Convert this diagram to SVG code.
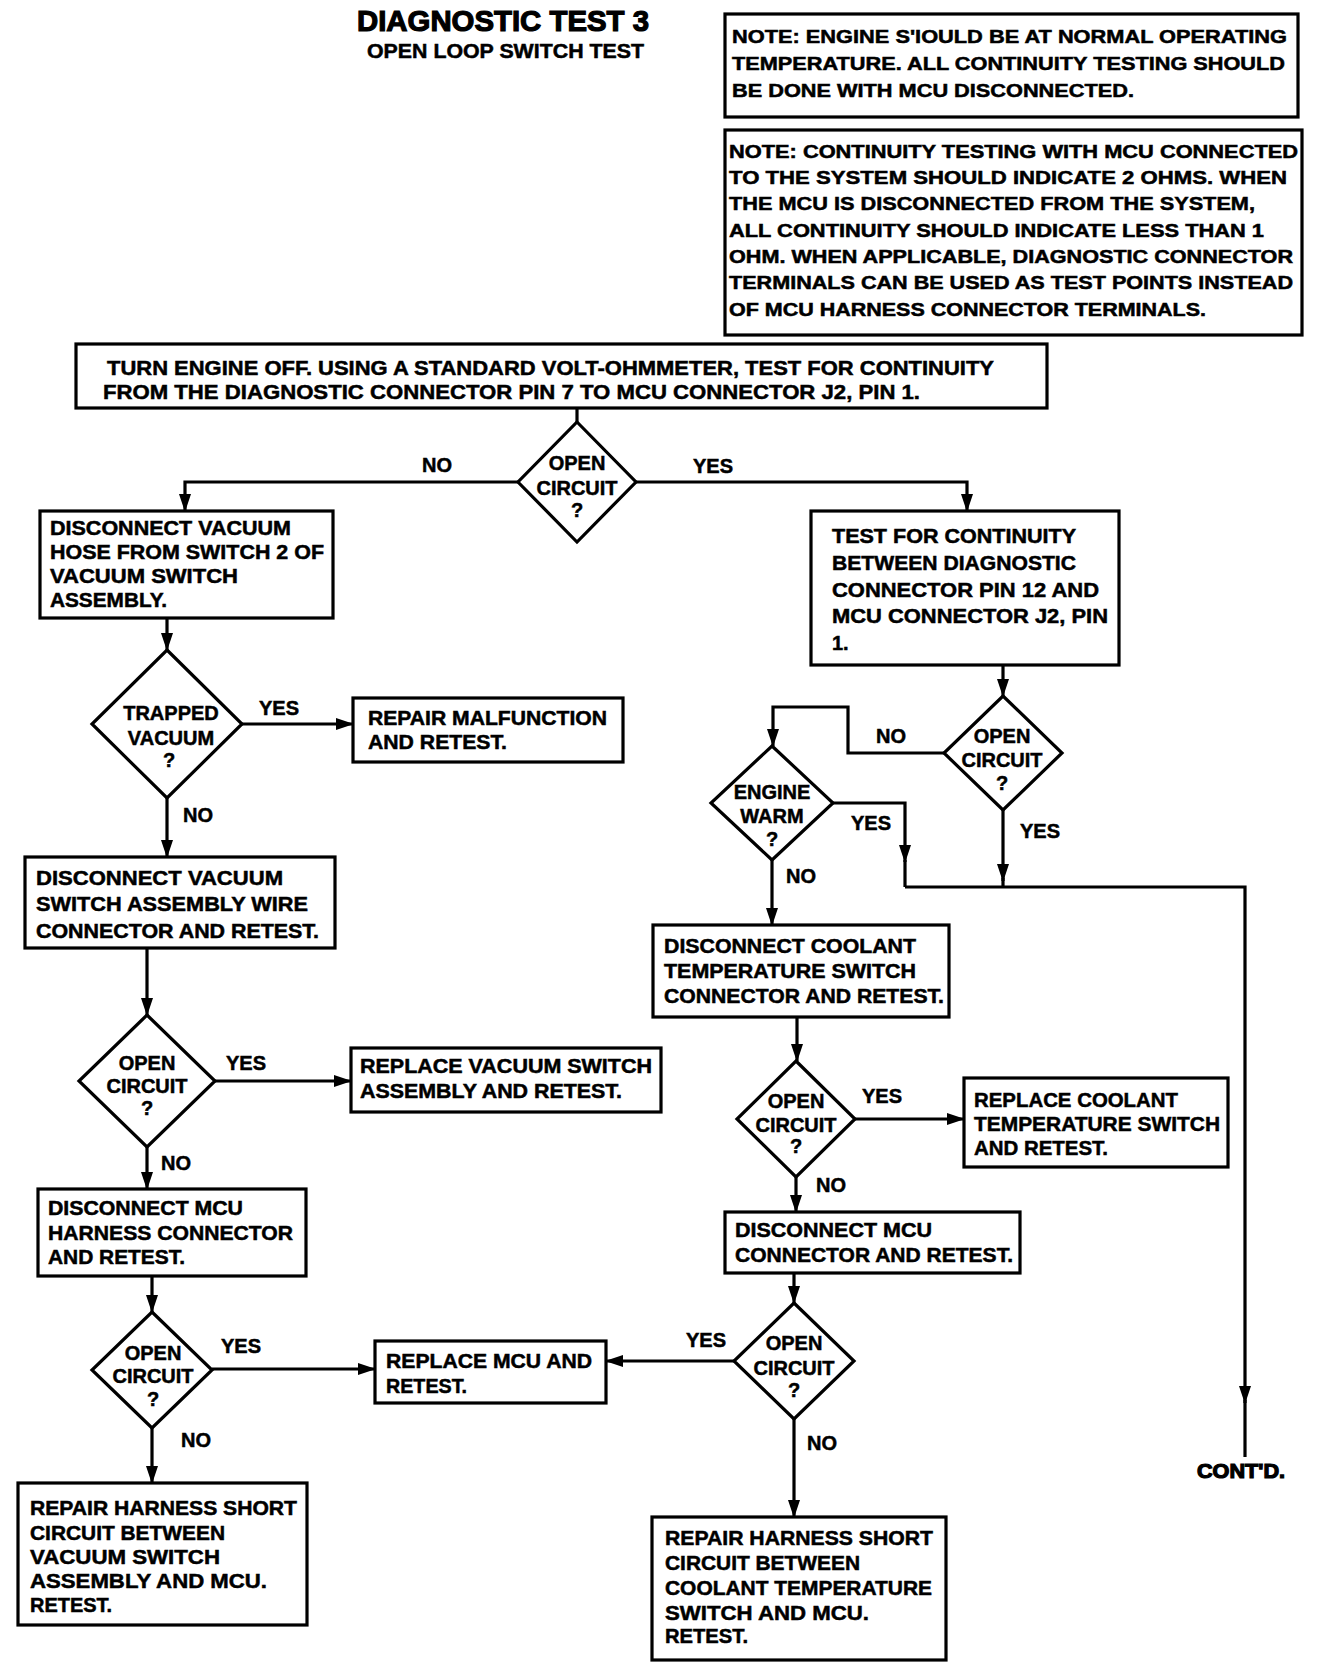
<svg xmlns="http://www.w3.org/2000/svg" width="1328" height="1664" viewBox="0 0 1328 1664">
<style>
  text { font-family: "Liberation Sans", Arial, sans-serif; font-weight: bold; fill: #000; stroke: #000; stroke-width: 0.5; }
  .t { font-size: 20px; }
  .n { font-size: 18px; }
  .c { font-size: 20px; text-anchor: middle; }
  .box { fill: #fff; stroke: #000; stroke-width: 3.2; }
  .dia { fill: #fff; stroke: #000; stroke-width: 3.2; stroke-linejoin: miter; }
  .ln { fill: none; stroke: #000; stroke-width: 3.2; }
  .ar { fill: none; stroke: #000; stroke-width: 3.2; marker-end: url(#ah); }
</style>
<defs>
  <marker id="ah" viewBox="0 0 18 12" markerWidth="18" markerHeight="12" refX="17" refY="6" orient="auto" markerUnits="userSpaceOnUse">
    <path d="M0,0 L18,6 L0,12 z" fill="#000"/>
  </marker>
</defs>
<rect x="0" y="0" width="1328" height="1664" fill="#fff"/>

<g id="title">
  <text x="357" y="31" style="font-size:30px;stroke-width:1.2" textLength="292" lengthAdjust="spacingAndGlyphs">DIAGNOSTIC TEST 3</text>
  <text x="367" y="58" style="font-size:20px" textLength="277" lengthAdjust="spacingAndGlyphs">OPEN LOOP SWITCH TEST</text>
</g>

<g id="note1">
  <rect class="box" x="725" y="14" width="573" height="103"/>
  <text class="n" x="732" y="43" textLength="555" lengthAdjust="spacingAndGlyphs">NOTE: ENGINE S'IOULD BE AT NORMAL OPERATING</text>
  <text class="n" x="732" y="70" textLength="553" lengthAdjust="spacingAndGlyphs">TEMPERATURE. ALL CONTINUITY TESTING SHOULD</text>
  <text class="n" x="732" y="97" textLength="402" lengthAdjust="spacingAndGlyphs">BE DONE WITH MCU DISCONNECTED.</text>
</g>

<g id="note2">
  <rect class="box" x="725" y="130" width="577" height="205"/>
  <text class="n" x="729" y="158" textLength="569" lengthAdjust="spacingAndGlyphs">NOTE: CONTINUITY TESTING WITH MCU CONNECTED</text>
  <text class="n" x="729" y="184" textLength="558" lengthAdjust="spacingAndGlyphs">TO THE SYSTEM SHOULD INDICATE 2 OHMS. WHEN</text>
  <text class="n" x="729" y="210" textLength="526" lengthAdjust="spacingAndGlyphs">THE MCU IS DISCONNECTED FROM THE SYSTEM,</text>
  <text class="n" x="729" y="237" textLength="535" lengthAdjust="spacingAndGlyphs">ALL CONTINUITY SHOULD INDICATE LESS THAN 1</text>
  <text class="n" x="729" y="263" textLength="564" lengthAdjust="spacingAndGlyphs">OHM. WHEN APPLICABLE, DIAGNOSTIC CONNECTOR</text>
  <text class="n" x="729" y="289" textLength="564" lengthAdjust="spacingAndGlyphs">TERMINALS CAN BE USED AS TEST POINTS INSTEAD</text>
  <text class="n" x="729" y="316" textLength="477" lengthAdjust="spacingAndGlyphs">OF MCU HARNESS CONNECTOR TERMINALS.</text>
</g>

<g id="connectors">
  <path class="ln" d="M577,408 V422"/>
  <path class="ar" d="M518,482 H185 V511"/>
  <path class="ar" d="M636,482 H967 V511"/>
  <path class="ar" d="M167,618 V650"/>
  <path class="ar" d="M242,724 H353"/>
  <path class="ar" d="M167,798 V857"/>
  <path class="ar" d="M147,948 V1015"/>
  <path class="ar" d="M215,1081 H351"/>
  <path class="ar" d="M147,1147 V1189"/>
  <path class="ar" d="M152,1276 V1312"/>
  <path class="ar" d="M212,1369 H375"/>
  <path class="ar" d="M152,1428 V1483"/>
  <path class="ar" d="M1003,666 V696"/>
  <path class="ar" d="M944,753 H848 V707 H773 V746"/>
  <path class="ar" d="M1003,810 V881"/>
  <path class="ln" d="M1003,878 V887"/>
  <path class="ar" d="M833,803 H905 V862"/>
  <path class="ln" d="M905,860 V887"/>
  <path class="ar" d="M905,887 H1245 V1403"/>
  <path class="ln" d="M1245,1400 V1457"/>
  <path class="ar" d="M772,860 V925"/>
  <path class="ar" d="M797,1017 V1061"/>
  <path class="ar" d="M855,1119 H964"/>
  <path class="ar" d="M796,1177 V1212"/>
  <path class="ar" d="M794,1273 V1303"/>
  <path class="ar" d="M734,1361 H606"/>
  <path class="ar" d="M794,1419 V1517"/>
</g>

<g id="labels">
  <text class="t" x="422" y="472">NO</text>
  <text class="t" x="693" y="473">YES</text>
  <text class="t" x="259" y="715">YES</text>
  <text class="t" x="183" y="822">NO</text>
  <text class="t" x="226" y="1070">YES</text>
  <text class="t" x="161" y="1170">NO</text>
  <text class="t" x="221" y="1353">YES</text>
  <text class="t" x="181" y="1447">NO</text>
  <text class="t" x="876" y="743">NO</text>
  <text class="t" x="1020" y="838">YES</text>
  <text class="t" x="851" y="830">YES</text>
  <text class="t" x="786" y="883">NO</text>
  <text class="t" x="862" y="1103">YES</text>
  <text class="t" x="816" y="1192">NO</text>
  <text class="t" x="686" y="1347">YES</text>
  <text class="t" x="807" y="1450">NO</text>
  <text x="1197" y="1478" style="font-size:20px;stroke-width:1.2" textLength="88" lengthAdjust="spacingAndGlyphs">CONT'D.</text>
</g>

<g id="start">
  <rect class="box" x="76" y="344" width="971" height="64"/>
  <text class="t" x="107" y="375" textLength="887" lengthAdjust="spacingAndGlyphs">TURN ENGINE OFF. USING A STANDARD VOLT-OHMMETER, TEST FOR CONTINUITY</text>
  <text class="t" x="103" y="399" textLength="817" lengthAdjust="spacingAndGlyphs">FROM THE DIAGNOSTIC CONNECTOR PIN 7 TO MCU CONNECTOR J2, PIN 1.</text>
</g>

<g id="d1">
  <polygon class="dia" points="577,422 636,482 577,542 518,482"/>
  <text class="c" x="577" y="470">OPEN</text>
  <text class="c" x="577" y="495">CIRCUIT</text>
  <text class="c" x="577" y="517">?</text>
</g>

<g id="boxA">
  <rect class="box" x="40" y="511" width="293" height="107"/>
  <text class="t" x="50" y="535" textLength="241" lengthAdjust="spacingAndGlyphs">DISCONNECT VACUUM</text>
  <text class="t" x="50" y="559" textLength="274" lengthAdjust="spacingAndGlyphs">HOSE FROM SWITCH 2 OF</text>
  <text class="t" x="50" y="583" textLength="188" lengthAdjust="spacingAndGlyphs">VACUUM SWITCH</text>
  <text class="t" x="50" y="607" textLength="117" lengthAdjust="spacingAndGlyphs">ASSEMBLY.</text>
</g>

<g id="dTrapped">
  <polygon class="dia" points="167,650 242,724 167,798 92,724"/>
  <text class="c" x="171" y="720">TRAPPED</text>
  <text class="c" x="171" y="745">VACUUM</text>
  <text class="c" x="169" y="767">?</text>
</g>

<g id="boxRepairMal">
  <rect class="box" x="353" y="698" width="270" height="64"/>
  <text class="t" x="368" y="725" textLength="239" lengthAdjust="spacingAndGlyphs">REPAIR MALFUNCTION</text>
  <text class="t" x="368" y="749" textLength="139" lengthAdjust="spacingAndGlyphs">AND RETEST.</text>
</g>

<g id="boxB">
  <rect class="box" x="25" y="857" width="310" height="91"/>
  <text class="t" x="36" y="885" textLength="247" lengthAdjust="spacingAndGlyphs">DISCONNECT VACUUM</text>
  <text class="t" x="36" y="911" textLength="272" lengthAdjust="spacingAndGlyphs">SWITCH ASSEMBLY WIRE</text>
  <text class="t" x="36" y="938" textLength="283" lengthAdjust="spacingAndGlyphs">CONNECTOR AND RETEST.</text>
</g>

<g id="d3">
  <polygon class="dia" points="147,1015 215,1081 147,1147 79,1081"/>
  <text class="c" x="147" y="1070">OPEN</text>
  <text class="c" x="147" y="1093">CIRCUIT</text>
  <text class="c" x="147" y="1115">?</text>
</g>

<g id="boxReplaceVac">
  <rect class="box" x="351" y="1048" width="310" height="64"/>
  <text class="t" x="360" y="1073" textLength="292" lengthAdjust="spacingAndGlyphs">REPLACE VACUUM SWITCH</text>
  <text class="t" x="360" y="1098" textLength="262" lengthAdjust="spacingAndGlyphs">ASSEMBLY AND RETEST.</text>
</g>

<g id="boxC">
  <rect class="box" x="38" y="1189" width="268" height="87"/>
  <text class="t" x="48" y="1215" textLength="195" lengthAdjust="spacingAndGlyphs">DISCONNECT MCU</text>
  <text class="t" x="48" y="1240" textLength="245" lengthAdjust="spacingAndGlyphs">HARNESS CONNECTOR</text>
  <text class="t" x="48" y="1264" textLength="137" lengthAdjust="spacingAndGlyphs">AND RETEST.</text>
</g>

<g id="d4">
  <polygon class="dia" points="152,1312 212,1370 152,1428 92,1370"/>
  <text class="c" x="153" y="1360">OPEN</text>
  <text class="c" x="153" y="1383">CIRCUIT</text>
  <text class="c" x="153" y="1406">?</text>
</g>

<g id="boxReplaceMcu">
  <rect class="box" x="375" y="1341" width="231" height="62"/>
  <text class="t" x="386" y="1368" textLength="206" lengthAdjust="spacingAndGlyphs">REPLACE MCU AND</text>
  <text class="t" x="386" y="1393" textLength="81" lengthAdjust="spacingAndGlyphs">RETEST.</text>
</g>

<g id="boxD">
  <rect class="box" x="18" y="1483" width="289" height="142"/>
  <text class="t" x="30" y="1515" textLength="267" lengthAdjust="spacingAndGlyphs">REPAIR HARNESS SHORT</text>
  <text class="t" x="30" y="1540" textLength="195" lengthAdjust="spacingAndGlyphs">CIRCUIT BETWEEN</text>
  <text class="t" x="30" y="1564" textLength="190" lengthAdjust="spacingAndGlyphs">VACUUM SWITCH</text>
  <text class="t" x="30" y="1588" textLength="237" lengthAdjust="spacingAndGlyphs">ASSEMBLY AND MCU.</text>
  <text class="t" x="30" y="1612" textLength="82" lengthAdjust="spacingAndGlyphs">RETEST.</text>
</g>

<g id="boxF">
  <rect class="box" x="811" y="511" width="308" height="154"/>
  <text class="t" x="832" y="543" textLength="244" lengthAdjust="spacingAndGlyphs">TEST FOR CONTINUITY</text>
  <text class="t" x="832" y="570" textLength="244" lengthAdjust="spacingAndGlyphs">BETWEEN DIAGNOSTIC</text>
  <text class="t" x="832" y="597" textLength="267" lengthAdjust="spacingAndGlyphs">CONNECTOR PIN 12 AND</text>
  <text class="t" x="832" y="623" textLength="276" lengthAdjust="spacingAndGlyphs">MCU CONNECTOR J2, PIN</text>
  <text class="t" x="832" y="650">1.</text>
</g>

<g id="dR1">
  <polygon class="dia" points="1003,696 1062,753 1003,810 944,753"/>
  <text class="c" x="1002" y="743">OPEN</text>
  <text class="c" x="1002" y="767">CIRCUIT</text>
  <text class="c" x="1002" y="790">?</text>
</g>

<g id="dEngine">
  <polygon class="dia" points="772,746 833,803 772,860 711,803"/>
  <text class="c" x="772" y="799">ENGINE</text>
  <text class="c" x="772" y="823">WARM</text>
  <text class="c" x="772" y="846">?</text>
</g>

<g id="boxG">
  <rect class="box" x="653" y="925" width="296" height="92"/>
  <text class="t" x="664" y="953" textLength="252" lengthAdjust="spacingAndGlyphs">DISCONNECT COOLANT</text>
  <text class="t" x="664" y="978" textLength="252" lengthAdjust="spacingAndGlyphs">TEMPERATURE SWITCH</text>
  <text class="t" x="664" y="1003" textLength="280" lengthAdjust="spacingAndGlyphs">CONNECTOR AND RETEST.</text>
</g>

<g id="dR2">
  <polygon class="dia" points="796,1061 855,1119 796,1177 737,1119"/>
  <text class="c" x="796" y="1108">OPEN</text>
  <text class="c" x="796" y="1132">CIRCUIT</text>
  <text class="c" x="796" y="1153">?</text>
</g>

<g id="boxH">
  <rect class="box" x="964" y="1078" width="264" height="89"/>
  <text class="t" x="974" y="1107" textLength="204" lengthAdjust="spacingAndGlyphs">REPLACE COOLANT</text>
  <text class="t" x="974" y="1131" textLength="246" lengthAdjust="spacingAndGlyphs">TEMPERATURE SWITCH</text>
  <text class="t" x="974" y="1155" textLength="134" lengthAdjust="spacingAndGlyphs">AND RETEST.</text>
</g>

<g id="boxI">
  <rect class="box" x="725" y="1212" width="295" height="61"/>
  <text class="t" x="735" y="1237" textLength="197" lengthAdjust="spacingAndGlyphs">DISCONNECT MCU</text>
  <text class="t" x="735" y="1262" textLength="278" lengthAdjust="spacingAndGlyphs">CONNECTOR AND RETEST.</text>
</g>

<g id="dR3">
  <polygon class="dia" points="794,1303 854,1361 794,1419 734,1361"/>
  <text class="c" x="794" y="1350">OPEN</text>
  <text class="c" x="794" y="1375">CIRCUIT</text>
  <text class="c" x="794" y="1397">?</text>
</g>

<g id="boxE">
  <rect class="box" x="652" y="1517" width="294" height="143"/>
  <text class="t" x="665" y="1545" textLength="268" lengthAdjust="spacingAndGlyphs">REPAIR HARNESS SHORT</text>
  <text class="t" x="665" y="1570" textLength="195" lengthAdjust="spacingAndGlyphs">CIRCUIT BETWEEN</text>
  <text class="t" x="665" y="1595" textLength="267" lengthAdjust="spacingAndGlyphs">COOLANT TEMPERATURE</text>
  <text class="t" x="665" y="1620" textLength="204" lengthAdjust="spacingAndGlyphs">SWITCH AND MCU.</text>
  <text class="t" x="665" y="1643" textLength="83" lengthAdjust="spacingAndGlyphs">RETEST.</text>
</g>
</svg>
